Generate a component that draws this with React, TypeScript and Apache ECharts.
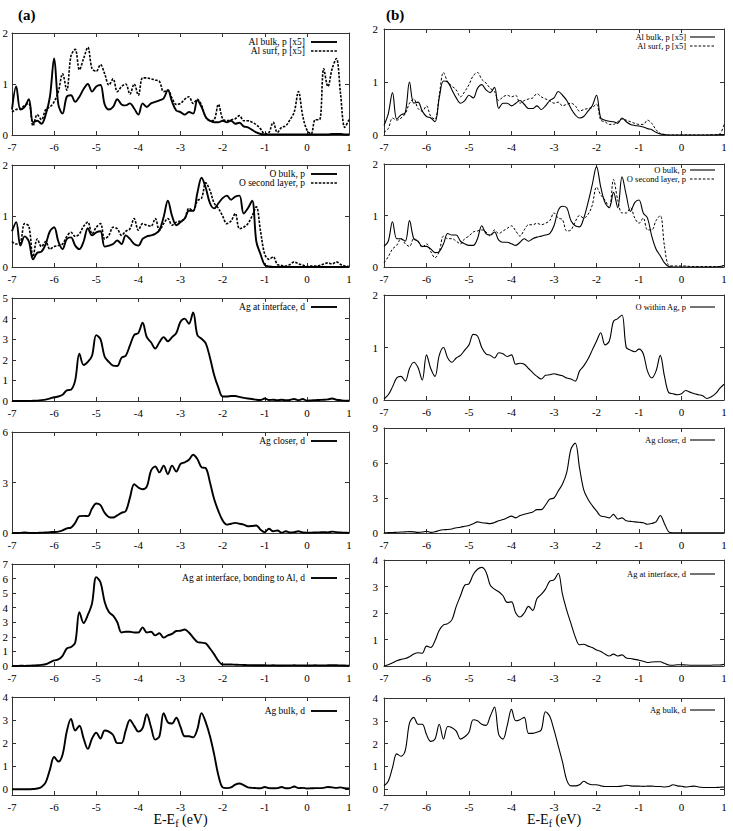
import React, { useEffect, useRef } from "react";
import * as echarts from "echarts";

// Energy grid (eV relative to the Fermi level)
const ENERGY = [
  -7.0, -6.9, -6.8, -6.7, -6.6, -6.5, -6.4, -6.3, -6.2, -6.1,
  -6.0, -5.9, -5.8, -5.7, -5.6, -5.5, -5.4, -5.3, -5.2, -5.1,
  -5.0, -4.9, -4.8, -4.7, -4.6, -4.5, -4.4, -4.3, -4.2, -4.1,
  -4.0, -3.9, -3.8, -3.7, -3.6, -3.5, -3.4, -3.3, -3.2, -3.1,
  -3.0, -2.9, -2.8, -2.7, -2.6, -2.5, -2.4, -2.3, -2.2, -2.1,
  -2.0, -1.9, -1.8, -1.7, -1.6, -1.5, -1.4, -1.3, -1.2, -1.1,
  -1.0, -0.9, -0.8, -0.7, -0.6, -0.5, -0.4, -0.3, -0.2, -0.1,
  0.0, 0.1, 0.2, 0.3, 0.4, 0.5, 0.6, 0.7, 0.8, 0.9,
  1.0,
];

// ---- column (a) ----
const alBulkA = [
  0.5, 0.95, 0.5, 0.55, 0.7, 0.25, 0.28, 0.22, 0.4, 0.75,
  1.5, 0.6, 0.42, 0.75, 0.78, 0.65, 0.75, 0.9, 1.0, 0.85,
  0.95, 0.98, 0.6, 0.5, 0.55, 0.7, 0.6, 0.58, 0.62, 0.52,
  0.4, 0.62, 0.55, 0.62, 0.65, 0.68, 0.72, 0.88, 0.65, 0.48,
  0.45, 0.4, 0.45, 0.42, 0.68, 0.55, 0.35, 0.28, 0.25, 0.25,
  0.28, 0.25, 0.28, 0.22, 0.24, 0.17, 0.15, 0.1, 0.05, 0.02,
  0.01, 0.01, 0.01, 0.01, 0.01, 0.01, 0.01, 0.01, 0.01, 0.01,
  0.01, 0.01, 0.01, 0.01, 0.01, 0.01, 0.02, 0.02, 0.02, 0.01,
  0.01,
];
const alSurfA = [
  0.45, 0.5, 0.52, 0.58, 0.62, 0.18, 0.4, 0.3, 0.5, 0.55,
  0.65, 0.85, 1.2, 0.88, 1.55, 1.68, 1.28, 1.5, 1.72, 1.3,
  1.25, 1.38, 1.2, 0.98, 1.1, 0.85, 0.95, 1.0, 0.8, 1.0,
  0.78, 1.12, 1.12, 1.1, 1.08, 1.05, 0.85, 0.88, 0.72, 0.6,
  0.62, 0.7, 0.75, 0.62, 0.7, 0.58, 0.35, 0.28, 0.3, 0.6,
  0.32, 0.28, 0.3, 0.32, 0.38, 0.28, 0.28, 0.25, 0.2, 0.12,
  0.02, 0.05, 0.25, 0.05, 0.15, 0.18, 0.3, 0.45, 0.85, 0.38,
  0.1, 0.02, 0.3, 0.3, 1.3, 0.95, 1.3, 1.5, 0.8, 0.15,
  0.3,
];
const oBulkA = [
  0.7, 0.88, 0.42, 0.6, 0.5, 0.15, 0.28, 0.3, 0.45, 0.7,
  0.78, 0.5, 0.35, 0.55, 0.58, 0.42, 0.35, 0.5, 0.76, 0.62,
  0.68, 0.7, 0.4, 0.42, 0.45, 0.52, 0.45, 0.62, 0.55, 0.45,
  0.42, 0.55, 0.6, 0.62, 0.65, 0.72, 0.98, 1.3, 1.0, 0.82,
  0.88, 0.95, 1.1, 1.1, 1.45, 1.75, 1.55, 1.25, 1.15, 1.25,
  1.35, 1.4, 1.32, 1.38, 1.4, 1.05, 1.15, 1.3, 0.5, 0.25,
  0.04, 0.01, 0, 0, 0, 0, 0, 0, 0, 0,
  0, 0, 0, 0, 0, 0, 0, 0, 0, 0,
  0,
];
const oSecondA = [
  0.5, 0.45, 0.48, 0.85, 0.8, 0.2, 0.55, 0.4, 0.5, 0.35,
  0.4, 0.42, 0.45, 0.6, 0.68, 0.6, 0.65, 0.8, 0.88, 0.65,
  0.78, 0.85, 0.55, 0.62, 0.78, 0.75, 0.62, 0.7, 0.75, 0.95,
  0.72, 0.85, 0.82, 0.8, 0.95, 0.72, 0.85, 0.95, 0.82, 0.88,
  0.9, 0.95, 1.15, 1.1, 1.3, 1.35, 1.65, 1.5, 1.25, 1.15,
  1.0, 0.85, 0.9, 1.05, 0.75, 0.78, 0.85, 1.0, 1.18, 0.7,
  0.25, 0.15, 0.2, 0.05, 0.03, 0.02, 0.05, 0.1, 0.06, 0.04,
  0.01, 0.02, 0.02, 0.03, 0.06, 0.08, 0.06, 0.1, 0.05, 0.02,
  0.01,
];
const agInterfaceA = [
  0, 0, 0, 0, 0, 0.01, 0.02, 0.04, 0.07, 0.12,
  0.18, 0.22, 0.3, 0.52, 0.55, 1.0, 2.3, 1.75, 1.9, 2.2,
  3.2, 3.0, 2.15, 1.9, 1.72, 1.7, 2.1, 2.2, 2.7, 3.2,
  3.3, 3.8, 3.1, 2.85, 2.55, 2.85, 3.1, 2.9, 3.1, 3.3,
  3.85, 4.0, 3.75, 4.3, 3.2, 3.02, 2.8, 2.1, 1.25, 0.65,
  0.22, 0.22, 0.24, 0.24, 0.2, 0.15, 0.12, 0.1, 0.06, 0.05,
  0.12, 0.05, 0.06, 0.04, 0.06, 0.04, 0.05, 0.1, 0.04, 0.1,
  0.02, 0.03, 0.04, 0.05, 0.06, 0.08, 0.12, 0.06, 0.04, 0.02,
  0.01,
];
const agCloserA = [
  0, 0, 0.01, 0.03, 0.01, 0, 0.01, 0.02, 0.03, 0.05,
  0.06, 0.08, 0.15, 0.28, 0.32, 0.6, 1.0, 1.02, 1.0, 1.45,
  1.75, 1.65, 1.2, 0.95, 0.92, 1.05, 1.2, 1.3, 2.1, 2.9,
  2.7, 2.6, 2.75, 3.7, 3.95, 3.6, 4.0, 3.5, 4.0, 3.65,
  4.1, 4.2, 4.35, 4.65, 4.4, 3.9, 3.85, 3.0, 2.0, 1.3,
  0.75, 0.5, 0.55, 0.6, 0.55, 0.5, 0.4, 0.42, 0.45, 0.2,
  0.05, 0.25, 0.1, 0.15, 0.02, 0.1, 0.03, 0.05, 0.1, 0.03,
  0.02, 0.02, 0.03, 0.04, 0.05, 0.04, 0.08, 0.05, 0.03, 0.02,
  0.01,
];
const agBondA = [
  0, 0, 0.02, 0.01, 0.02, 0.03, 0.05, 0.08, 0.12, 0.25,
  0.38, 0.45, 0.7, 1.2, 1.3, 1.6, 3.7, 2.95, 3.5, 4.3,
  6.1, 5.75, 4.4, 3.7, 3.45, 3.0, 2.3, 2.35, 2.35, 2.3,
  2.3, 2.65, 2.3, 2.35, 2.1, 2.25, 1.95, 2.1, 2.2, 2.4,
  2.42, 2.5, 2.3, 1.95, 1.65, 1.6, 1.55, 1.2, 0.8, 0.35,
  0.1, 0.1, 0.1, 0.09, 0.08, 0.07, 0.06, 0.06, 0.05, 0.05,
  0.05, 0.04, 0.05, 0.04, 0.03, 0.04, 0.04, 0.05, 0.04, 0.04,
  0.03, 0.04, 0.05, 0.04, 0.04, 0.05, 0.06, 0.05, 0.04, 0.03,
  0.02,
];
const agBulkA = [
  0, 0, 0, 0, 0, 0.01, 0.03, 0.1, 0.3, 0.85,
  1.4, 1.2, 1.5, 2.5, 3.05, 2.55, 2.75, 2.2, 1.75, 2.2,
  2.45, 2.2, 2.55, 2.5, 2.35, 2.0, 2.0, 2.55, 3.0, 2.75,
  2.5, 2.65, 3.25, 2.7, 2.15, 2.3, 3.3, 2.9, 2.85, 3.1,
  2.7, 2.3, 2.3, 2.25, 2.6, 3.3, 2.9, 2.3, 1.5, 0.6,
  0.08, 0.05, 0.08, 0.2, 0.25, 0.18, 0.08, 0.06, 0.05, 0.04,
  0.1, 0.05, 0.04, 0.05, 0.1, 0.04, 0.05, 0.12, 0.05, 0.06,
  0.03, 0.04, 0.05, 0.05, 0.06, 0.1, 0.08, 0.06, 0.08, 0.04,
  0.03,
];

// ---- column (b) ----
const alBulkB = [
  0.18, 0.4, 0.8, 0.3, 0.38, 0.42, 1.0, 0.6, 0.62, 0.45,
  0.35, 0.32, 0.25, 0.7, 1.02, 1.0, 0.85, 0.7, 0.6, 0.65,
  0.75, 0.7, 0.88, 0.95, 0.85, 0.8, 0.9, 0.5, 0.6, 0.6,
  0.55, 0.6, 0.65, 0.58, 0.5, 0.5, 0.55, 0.48, 0.55, 0.65,
  0.7, 0.82, 0.75, 0.65, 0.5, 0.38, 0.32, 0.35, 0.45, 0.55,
  0.75, 0.32, 0.28, 0.26, 0.25, 0.22, 0.32, 0.25, 0.2, 0.18,
  0.17, 0.15, 0.12, 0.1, 0.05, 0.02, 0.01, 0, 0, 0,
  0, 0, 0, 0, 0, 0, 0, 0, 0, 0.01,
  0.01,
];
const alSurfB = [
  0.05, 0.12, 0.32, 0.28, 0.32, 0.4, 0.6, 0.68, 0.5, 0.45,
  0.55, 0.35, 0.3, 0.75, 1.18, 1.0, 0.92, 0.85, 0.72, 0.82,
  0.95, 1.12, 1.18, 1.05, 0.98, 0.88, 0.82, 0.65, 0.72, 0.75,
  0.72, 0.75, 0.6, 0.65, 0.68, 0.7, 0.78, 0.72, 0.68, 0.65,
  0.6, 0.62, 0.55, 0.58, 0.6, 0.55, 0.45, 0.48, 0.5, 0.52,
  0.58, 0.28, 0.25, 0.2, 0.2, 0.25, 0.3, 0.28, 0.25, 0.22,
  0.2, 0.2, 0.28, 0.22, 0.1, 0.03, 0.01, 0, 0, 0,
  0, 0, 0, 0, 0, 0, 0, 0.01, 0.01, 0.02,
  0.2,
];
const oBulkB = [
  0.4, 0.5, 0.88, 0.55, 0.55, 0.5, 0.9, 0.55, 0.5, 0.4,
  0.4, 0.35, 0.28, 0.3, 0.45, 0.65, 0.62, 0.62, 0.5, 0.45,
  0.42, 0.42, 0.55, 0.8, 0.65, 0.62, 0.68, 0.52, 0.48, 0.48,
  0.45, 0.42, 0.48, 0.55, 0.5, 0.55, 0.58, 0.6, 0.62, 0.65,
  0.8, 1.1, 1.18, 1.15, 0.9, 0.8, 0.78, 0.95, 1.25, 1.6,
  1.95, 1.55, 1.25, 1.15, 1.45, 1.15, 1.75, 1.4, 1.08, 1.25,
  1.3, 1.05, 0.95, 0.6, 0.35, 0.22, 0.08, 0.01, 0, 0,
  0, 0, 0, 0, 0, 0, 0, 0, 0, 0.01,
  0.03,
];
const oSecondB = [
  0.08, 0.2, 0.35, 0.42, 0.55, 0.45, 0.4, 0.55, 0.5, 0.38,
  0.45, 0.3, 0.18, 0.3, 0.6, 0.55, 0.55, 0.5, 0.45, 0.55,
  0.6, 0.68, 0.7, 0.72, 0.68, 0.6, 0.72, 0.65, 0.7, 0.75,
  0.8, 0.7, 0.6, 0.72, 0.82, 0.82, 0.85, 0.82, 0.85, 0.9,
  1.05, 0.95, 0.92, 0.7, 0.72, 0.88, 1.0, 0.95, 1.02, 1.2,
  1.55, 1.4, 1.3, 1.15, 1.7, 1.3, 1.05, 1.05, 1.15, 0.95,
  0.85, 0.95, 0.72, 0.72, 0.9, 1.0, 0.4, 0.03, 0.02, 0.02,
  0.02, 0.02, 0.01, 0.01, 0.01, 0.01, 0.01, 0.01, 0.01, 0.01,
  0.03,
];
const oWithinB = [
  0.02, 0.1, 0.25, 0.42, 0.45, 0.36, 0.6, 0.72, 0.62, 0.38,
  0.86, 0.6, 0.45, 0.85, 1.0, 0.8, 0.72, 0.8, 0.85, 0.95,
  1.05, 1.25, 1.22, 1.0, 0.88, 0.85, 0.8, 0.9, 0.88, 0.83,
  0.86, 0.68, 0.7, 0.68, 0.6, 0.52, 0.45, 0.4, 0.47, 0.48,
  0.5, 0.48, 0.46, 0.42, 0.4, 0.36, 0.55, 0.65, 0.78, 0.95,
  1.12, 1.28, 1.05, 1.12, 1.5, 1.55, 1.62, 1.0, 0.95, 0.92,
  0.97, 0.88, 0.55, 0.42, 0.55, 0.85, 0.45, 0.14, 0.12, 0.1,
  0.12, 0.18, 0.15, 0.12, 0.1, 0.08, 0.03, 0.06, 0.12, 0.22,
  0.3,
];
const agCloserB = [
  0.02, 0.03, 0.04, 0.06, 0.08, 0.1, 0.12, 0.1, 0.05, 0.08,
  0.15, 0.05, 0.1, 0.22, 0.28, 0.3, 0.35, 0.45, 0.5, 0.58,
  0.65, 0.8, 0.95, 0.88, 0.85, 0.8, 0.9, 1.05, 1.15, 1.3,
  1.45, 1.3, 1.5, 1.6, 1.7, 1.8, 2.0, 2.0, 2.4, 2.9,
  3.0, 3.6, 4.2, 5.2, 7.2, 7.7, 5.6, 3.7, 2.9, 2.35,
  1.9, 1.45, 1.4, 1.3, 1.6, 1.2, 1.3, 1.05, 1.0, 0.95,
  0.92, 0.88, 0.75, 0.82, 0.95, 1.5, 0.8, 0.1, 0.02, 0.01,
  0.01, 0.01, 0.01, 0.01, 0.01, 0.01, 0.01, 0.01, 0.01, 0.01,
  0.01,
];
const agInterfaceB = [
  0, 0.05, 0.12, 0.2, 0.25, 0.28, 0.35, 0.45, 0.5, 0.48,
  0.75, 0.7, 0.95, 1.35, 1.55, 1.6, 1.75, 2.25, 2.65, 3.05,
  3.1, 3.45, 3.65, 3.72, 3.55, 3.05, 2.9, 2.8, 2.65, 2.4,
  2.42, 2.0, 1.85, 2.0, 2.25, 2.1, 2.55, 2.7, 2.9, 3.2,
  3.25, 3.5, 2.7, 2.1, 1.6, 1.1, 0.8, 0.82, 0.75, 0.7,
  0.6, 0.55, 0.45, 0.38, 0.45, 0.38, 0.42, 0.3, 0.28, 0.25,
  0.22, 0.18, 0.13, 0.15, 0.16, 0.16, 0.1, 0.04, 0.03, 0.05,
  0.05, 0.04, 0.03, 0.03, 0.03, 0.03, 0.03, 0.03, 0.04, 0.04,
  0.06,
];
const agBulkB = [
  0.15, 0.35, 0.95, 1.55, 1.45, 1.7, 2.9, 3.15, 2.85, 2.85,
  2.4, 2.1, 2.2, 2.85, 2.2, 2.75, 2.7, 2.55, 2.2, 2.3,
  2.5, 3.05, 3.0, 2.85, 2.8, 3.2, 3.6, 2.4, 2.2, 2.8,
  3.5, 3.0, 3.05, 3.15, 2.45, 2.45, 2.5, 2.6, 3.4, 3.2,
  2.6, 1.9, 1.2, 0.4, 0.15, 0.15, 0.2, 0.35, 0.25, 0.2,
  0.2, 0.15, 0.12, 0.12, 0.12, 0.12, 0.14, 0.18, 0.15, 0.14,
  0.14, 0.13, 0.14, 0.14, 0.12, 0.12, 0.1, 0.12, 0.2, 0.15,
  0.13, 0.1, 0.12, 0.14, 0.1, 0.08, 0.08, 0.08, 0.08, 0.09,
  0.1,
];

const X_TICKS = [-7, -6, -5, -4, -3, -2, -1, 0, 1];
const Y_TICKS_BOTTOM = [0, 1, 2, 3, 4];

const FONT = "Liberation Serif, Times New Roman, Times, serif";

type LineDef = { name: string; values: number[]; dashed?: boolean };
type PanelDef = {
  col: number;
  top: number;
  bottom: number;
  yMin: number;
  yMax: number;
  yStep: number;
  yCustom?: number[];
  lines: LineDef[];
  legendY: number[];
  xName?: boolean;
};

const COLS = [
  { left: 12, right: 349, yLabelMargin: 4, textRight: 305, lineFrom: 311, lineTo: 337, solidW: 1.9, dashW: 1.6, dash: [2.5, 1.4], legendFont: 9.5 },
  { left: 384, right: 724, yLabelMargin: 6, textRight: 686, lineFrom: 690, lineTo: 715, solidW: 1.1, dashW: 1.0, dash: [2.5, 1.8], legendFont: 8.5 },
];

const PANELS: PanelDef[] = [
  { col: 0, top: 33, bottom: 135, yMin: 0, yMax: 2, yStep: 1, legendY: [42, 51],
    lines: [{ name: "Al bulk, p [x5]", values: alBulkA }, { name: "Al surf, p [x5]", values: alSurfA, dashed: true }] },
  { col: 0, top: 165, bottom: 267, yMin: 0, yMax: 2, yStep: 1, legendY: [174, 183],
    lines: [{ name: "O bulk, p", values: oBulkA }, { name: "O second layer, p", values: oSecondA, dashed: true }] },
  { col: 0, top: 298, bottom: 401, yMin: 0, yMax: 5, yStep: 1, legendY: [307],
    lines: [{ name: "Ag at interface, d", values: agInterfaceA }] },
  { col: 0, top: 432, bottom: 533, yMin: 0, yMax: 6, yStep: 3, legendY: [441],
    lines: [{ name: "Ag closer, d", values: agCloserA }] },
  { col: 0, top: 564, bottom: 666, yMin: 0, yMax: 7, yStep: 1, legendY: [578],
    lines: [{ name: "Ag at interface, bonding to Al, d", values: agBondA }] },
  { col: 0, top: 697, bottom: 795, yMin: -0.25, yMax: 4, yStep: 1, yCustom: Y_TICKS_BOTTOM, legendY: [711], xName: true,
    lines: [{ name: "Ag bulk, d", values: agBulkA }] },

  { col: 1, top: 29, bottom: 135, yMin: 0, yMax: 2, yStep: 1, legendY: [37, 46],
    lines: [{ name: "Al bulk, p [x5]", values: alBulkB }, { name: "Al surf, p [x5]", values: alSurfB, dashed: true }] },
  { col: 1, top: 164, bottom: 267, yMin: 0, yMax: 2, yStep: 1, legendY: [170, 179],
    lines: [{ name: "O bulk, p", values: oBulkB }, { name: "O second layer, p", values: oSecondB, dashed: true }] },
  { col: 1, top: 295, bottom: 400, yMin: 0, yMax: 2, yStep: 1, legendY: [307],
    lines: [{ name: "O within Ag, p", values: oWithinB }] },
  { col: 1, top: 428, bottom: 533, yMin: 0, yMax: 9, yStep: 3, legendY: [440],
    lines: [{ name: "Ag closer, d", values: agCloserB }] },
  { col: 1, top: 560, bottom: 666, yMin: 0, yMax: 4, yStep: 1, legendY: [574],
    lines: [{ name: "Ag at interface, d", values: agInterfaceB }] },
  { col: 1, top: 698, bottom: 795, yMin: -0.25, yMax: 4, yStep: 1, yCustom: Y_TICKS_BOTTOM, legendY: [710], xName: true,
    lines: [{ name: "Ag bulk, d", values: agBulkB }] },
];

function buildOption() {
  const grid: any[] = [];
  const xAxis: any[] = [];
  const yAxis: any[] = [];
  const series: any[] = [];
  const graphic: any[] = [];

  const axisColor = "#333";
  PANELS.forEach((p, i) => {
    const c = COLS[p.col];
    grid.push({
      left: c.left,
      top: p.top,
      width: c.right - c.left,
      height: p.bottom - p.top,
      outerBoundsMode: "none",
      containLabel: false,
    });
    const axisLine = { show: true, onZero: false, lineStyle: { color: axisColor, width: 1 } };
    const tick = { show: true, inside: true, length: 4, lineStyle: { color: axisColor, width: 1 } };
    const labelStyle = { color: "#000", fontFamily: FONT, fontSize: 11 };

    const xBase: any = {
      type: "value",
      gridIndex: i,
      min: X_TICKS[0],
      max: X_TICKS[X_TICKS.length - 1],
      interval: 1,
      splitLine: { show: false },
      axisLine,
    };
    const xMain: any = {
      ...xBase,
      position: "bottom",
      axisTick: tick,
      axisLabel: { ...labelStyle, margin: 6, showMinLabel: true, showMaxLabel: true },
    };
    if (p.xName) {
      xMain.name = "{m|E-E}{s|f}{m| (eV)}";
      xMain.nameLocation = "middle";
      xMain.nameGap = 15;
      xMain.nameTextStyle = {
        color: "#000",
        fontFamily: FONT,
        fontSize: 14,
        rich: {
          m: { fontFamily: FONT, fontSize: 14, color: "#000" },
          s: { fontFamily: FONT, fontSize: 10, color: "#000", padding: [7, 0, 0, 0] },
        },
      };
    }
    xAxis.push(xMain);
    xAxis.push({ ...xBase, position: "top", axisTick: tick, axisLabel: { show: false } });

    const yBase: any = {
      type: "value",
      gridIndex: i,
      min: p.yMin,
      max: p.yMax,
      splitLine: { show: false },
      axisLine,
    };
    if (!p.yCustom) yBase.interval = p.yStep;
    const yTick: any = p.yCustom ? { ...tick, customValues: p.yCustom } : tick;
    const yLabel: any = { ...labelStyle, margin: c.yLabelMargin, showMinLabel: true, showMaxLabel: true };
    if (p.yCustom) yLabel.customValues = p.yCustom;
    yAxis.push({ ...yBase, position: "left", axisTick: yTick, axisLabel: yLabel });
    yAxis.push({ ...yBase, position: "right", axisTick: yTick, axisLabel: { show: false } });

    p.lines.forEach((ln, k) => {
      series.push({
        type: "line",
        name: ln.name,
        xAxisIndex: 2 * i,
        yAxisIndex: 2 * i,
        data: ENERGY.map((e, j) => [e, ln.values[j]]),
        showSymbol: false,
        symbol: "none",
        smooth: 0.35,
        clip: true,
        silent: true,
        lineStyle: {
          color: "#000",
          width: ln.dashed ? c.dashW : c.solidW,
          type: ln.dashed ? c.dash : "solid",
        },
      });
      const y = p.legendY[k];
      graphic.push({
        type: "text",
        x: c.textRight,
        y,
        silent: true,
        style: {
          text: ln.name,
          fill: "#000",
          fontFamily: FONT,
          fontSize: c.legendFont,
          textAlign: "right",
          textVerticalAlign: "middle",
          verticalAlign: "middle",
        },
      });
      graphic.push({
        type: "line",
        silent: true,
        shape: { x1: c.lineFrom, y1: y, x2: c.lineTo, y2: y },
        style: {
          stroke: "#000",
          lineWidth: ln.dashed ? c.dashW : c.solidW,
          lineDash: ln.dashed ? c.dash : null,
        },
      });
    });
  });

  graphic.push({
    type: "text",
    x: 18,
    y: 15,
    style: { text: "(a)", fill: "#000", fontFamily: FONT, fontSize: 15, fontWeight: "bold", textAlign: "left", textVerticalAlign: "middle", verticalAlign: "middle" },
  });
  graphic.push({
    type: "text",
    x: 386,
    y: 15,
    style: { text: "(b)", fill: "#000", fontFamily: FONT, fontSize: 15, fontWeight: "bold", textAlign: "left", textVerticalAlign: "middle", verticalAlign: "middle" },
  });

  return {
    animation: false,
    backgroundColor: "#fff",
    textStyle: { fontFamily: FONT },
    grid,
    xAxis,
    yAxis,
    series,
    graphic,
  };
}

export default function App() {
  const ref = useRef<HTMLDivElement>(null);
  useEffect(() => {
    if (!ref.current) return;
    const chart = echarts.init(ref.current, null, { renderer: "svg" });
    chart.setOption(buildOption() as any);
    return () => {
      chart.dispose();
    };
  }, []);
  return (
    <div
      ref={ref}
      style={{ position: "absolute", left: 0, top: 0, width: 733, height: 831, background: "#fff" }}
    />
  );
}
